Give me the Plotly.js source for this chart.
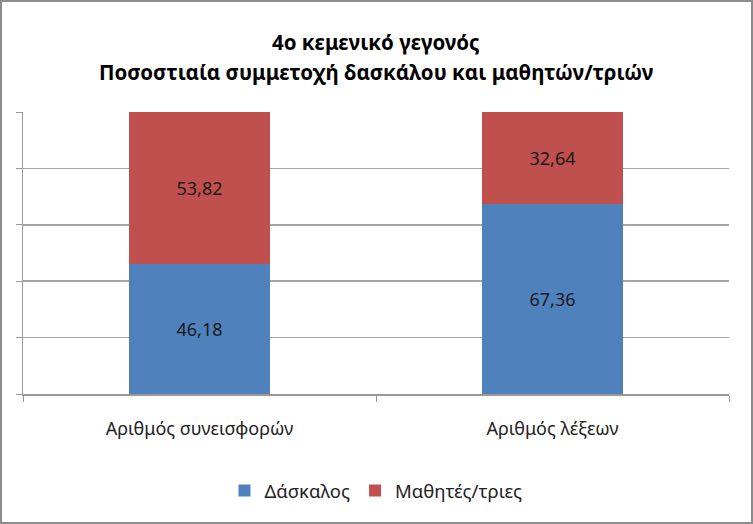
<!DOCTYPE html>
<html>
<head>
<meta charset="utf-8">
<script src="https://cdn.plot.ly/plotly-3.0.1.min.js"></script>
<style>
  html, body { margin: 0; padding: 0; background: #fff; }
  #wrap { position: relative; width: 753px; height: 524px; }
  #chart { position: absolute; left: 0; top: 0; width: 753px; height: 524px; }
  #frame { position: absolute; left: 0; top: 0; width: 753px; height: 524px; box-sizing: border-box; border: 2px solid #8c8c8c; pointer-events: none; }
</style>
</head>
<body>
<div id="wrap"><div id="chart"></div><div id="frame"></div></div>
<script>
const categories = ["Αριθμός συνεισφορών", "Αριθμός λέξεων"];
const seriesNames = ["Δάσκαλος", "Μαθητές/τριες"];
const teacherValues = [46.18, 67.36];
const studentValues = [53.82, 32.64];
const seriesColors = ["#4F81BD", "#C0504D"];
const titleLines = ["4ο κεμενικό γεγονός", "Ποσοστιαία συμμετοχή δασκάλου και μαθητών/τριών"];

const FONT = "Noto Sans, Open Sans, DejaVu Sans, sans-serif";

const traces = [teacherValues, studentValues].map((vals, i) => ({
  type: "bar",
  name: seriesNames[i],
  x: categories,
  y: vals,
  marker: { color: seriesColors[i] },
  texttemplate: "%{y:.2f}",
  textposition: "inside",
  insidetextanchor: "middle",
  textfont: { family: FONT, size: 18, color: "#1a1a1a" },
  hoverinfo: "none"
}));

const titleY = [1.248, 1.142];
const annotations = titleLines.map((t, i) => ({
  text: "<b>" + t + "</b>",
  xref: "paper", yref: "paper",
  x: 0.5, y: titleY[i],
  xanchor: "center", yanchor: "middle",
  showarrow: false,
  font: { family: FONT, size: 20.5, color: "#000000" }
}));

const layout = {
  width: 753,
  height: 524,
  barmode: "stack",
  bargap: 0.603,
  separators: ",.",
  paper_bgcolor: "#ffffff",
  plot_bgcolor: "#ffffff",
  margin: { l: 23, r: 24, t: 112, b: 130 },
  annotations: annotations,
  xaxis: {
    type: "category",
    showline: true,
    linecolor: "#999999",
    linewidth: 1.5,
    ticks: "outside",
    tickson: "boundaries",
    ticklen: 6,
    tickcolor: "#999999",
    ticklabelstandoff: 18,
    tickfont: { family: FONT, size: 18, color: "#222222" },
    showgrid: false,
    zeroline: false,
    fixedrange: true
  },
  yaxis: {
    range: [0, 100],
    dtick: 20,
    showticklabels: false,
    showline: true,
    linecolor: "#999999",
    linewidth: 1.5,
    ticks: "outside",
    ticklen: 6,
    tickcolor: "#999999",
    showgrid: true,
    gridcolor: "#a6a6a6",
    gridwidth: 1.5,
    zeroline: false,
    fixedrange: true
  },
  showlegend: true,
  legend: {
    orientation: "h",
    x: 0.5,
    xanchor: "center",
    y: -0.344,
    yanchor: "middle",
    font: { family: FONT, size: 18.5, color: "#222222" },
    itemwidth: 30,
    traceorder: "normal"
  }
};

Plotly.newPlot("chart", traces, layout, { displayModeBar: false, staticPlot: true });
</script>
</body>
</html>
